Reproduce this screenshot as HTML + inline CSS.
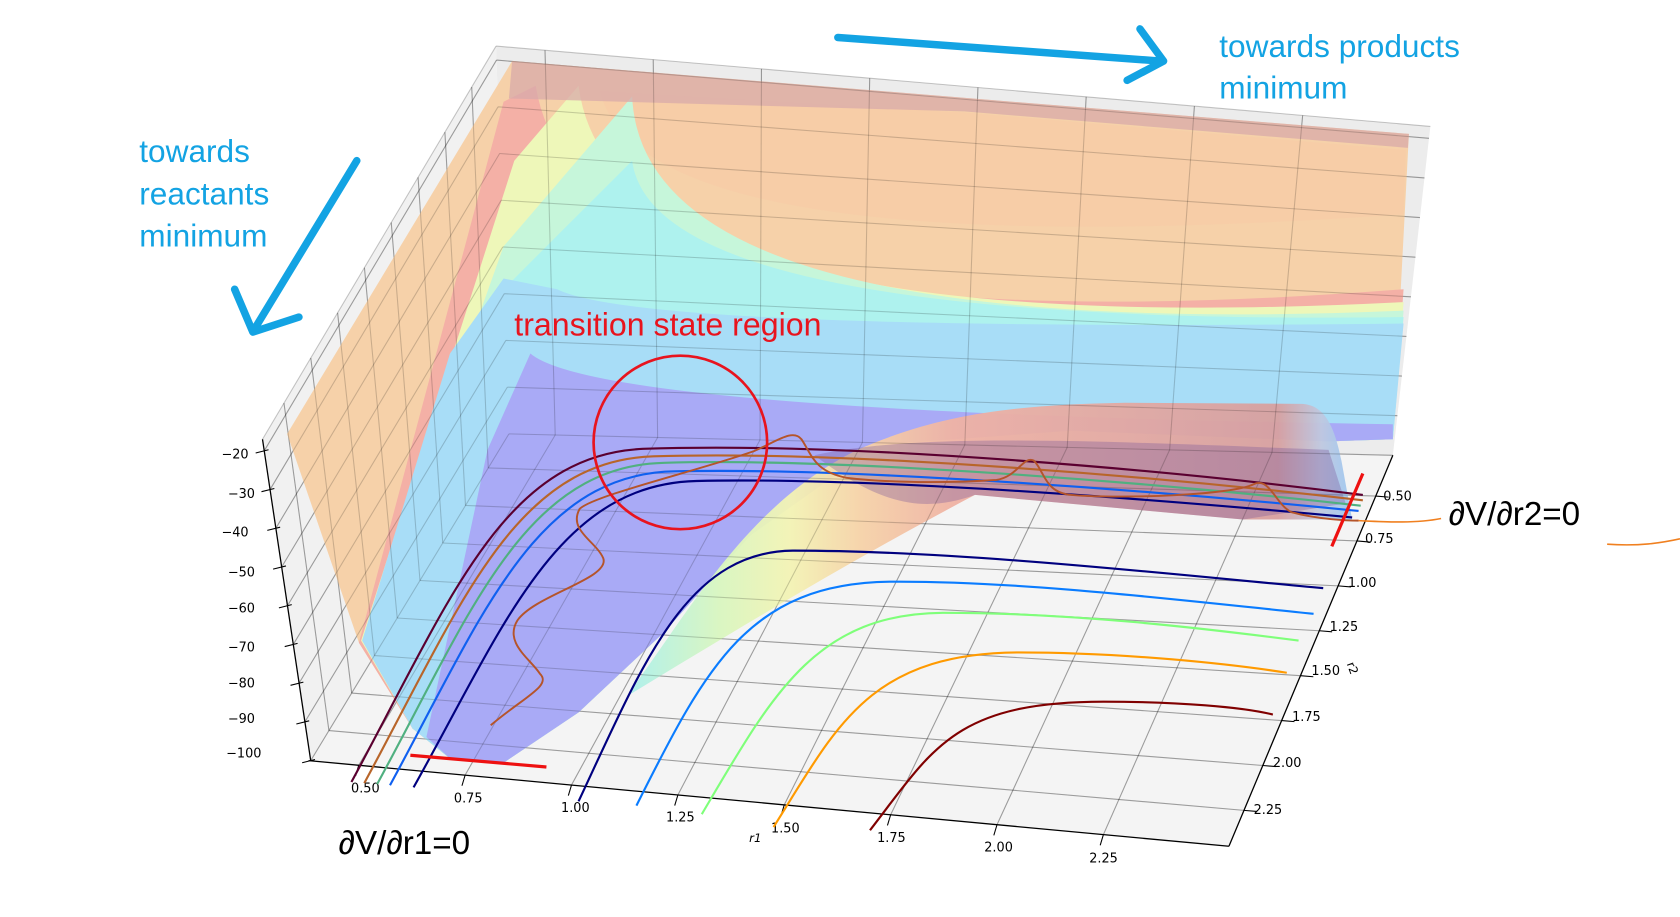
<!DOCTYPE html>
<html><head><meta charset="utf-8"><style>
html,body{margin:0;padding:0;background:#fff;width:1680px;height:917px;overflow:hidden}
svg{display:block}
</style></head><body>
<svg id="s" width="1680" height="917" viewBox="0 0 1568 856" preserveAspectRatio="none" xmlns="http://www.w3.org/2000/svg">
<defs>
<linearGradient id="bump" x1="590" y1="0" x2="1260" y2="0" gradientUnits="userSpaceOnUse">
<stop offset="0" stop-color="#aef0ea"/>
<stop offset="0.12" stop-color="#d8f6c0"/>
<stop offset="0.22" stop-color="#f3f3b4"/>
<stop offset="0.32" stop-color="#f6d2a8"/>
<stop offset="0.45" stop-color="#efb2a4"/>
<stop offset="0.9" stop-color="#d7a0a0"/>
<stop offset="0.96" stop-color="#bfc8e0"/>
<stop offset="1" stop-color="#9fc8f0"/>
</linearGradient>
</defs>
<polygon points="245,410 463,43 475,405 290,710" fill="#f1f1f1"/>
<polygon points="463,43 1335,118 1300,425 475,405" fill="#ececec"/>
<polygon points="475,405 1300,425 1147,790 290,710" fill="#f4f4f4"/>
<g id="grid" stroke="#000" stroke-opacity="0.22" stroke-width="1" fill="none"></g>
<g id="surf">
<path fill="#f6d1a9" d="M268,405 L478,57 L1315,125 L1300,410 L1240,412 L1000,402 L820,415 L700,500 L620,590 L540,665 L470,712 L420,708 L385,680 L335,600 Z"/>
<path fill="#f4b0a6" d="M335,600 L470,95 L500,80 Q540,330 1310,270 L1300,410 L1240,412 L1000,402 L820,415 L700,500 L620,590 L540,665 L470,712 L420,708 L385,680 Z"/>
<path fill="#f8c9a6" d="M560,85 Q600,250 1310,200 L1312,140 L900,105 Z" opacity="0.6"/>
<path fill="#eef7b9" d="M337,598 L480,150 L540,80 Q570,320 1310,282 L1300,410 L1240,412 L1000,402 L820,415 L700,500 L620,590 L540,665 L470,712 L420,708 L385,680 Z"/>
<path fill="#c6f6da" d="M340,595 L470,230 L590,90 Q600,320 1310,290 L1300,410 L1240,412 L1000,402 L820,415 L700,500 L620,590 L540,665 L470,712 L420,708 L385,680 Z"/>
<path fill="#aef2ee" d="M340,595 L460,280 L590,150 Q610,305 1310,296 L1300,410 L1240,412 L1000,402 L820,415 L700,500 L620,590 L540,665 L470,712 L420,708 L385,680 Z"/>
<path fill="#a8ddf7" d="M338,598 L420,330 L470,260 L520,270 Q600,310 1310,302 L1300,410 L1240,412 L1000,402 L820,415 L700,500 L620,590 L540,665 L470,712 L420,708 L385,680 Z"/>
<path fill="#a9aaf6" d="M398,688 L455,420 L495,330 Q560,385 1300,396 L1300,410 L1240,412 L1000,402 L820,415 L700,500 L620,590 L540,665 L470,712 L420,708 Z"/>
<path fill="#d8a9aa" opacity="0.75" d="M478,57 L1315,125 L1314,138 L900,104 L475,92 Z"/>
</g>
<path fill="url(#bump)" opacity="0.95" d="M585,650 C650,560 700,470 800,420 C880,385 950,378 1050,376 L1215,377 C1235,378 1245,395 1252,430 L1262,485 L1160,485 L910,462 C800,520 700,580 585,650 Z"/>
<path fill="#7a5a9a" opacity="0.35" d="M760,425 C850,405 1000,410 1240,420 L1256,470 L1160,485 L910,462 C860,480 820,470 760,425 Z"/>
<g id="grid2" stroke="#000" stroke-opacity="0.18" stroke-width="1" fill="none"></g>
<g stroke="#000" stroke-width="1.2" fill="none">
<line x1="245" y1="410" x2="290" y2="710"/>
<line x1="288" y1="710" x2="1147" y2="790"/>
<line x1="1147" y1="790" x2="1300" y2="425"/>
</g>
<g id="ticks" stroke="#000" stroke-width="1"></g>
<g font-family="DejaVu Sans, Liberation Sans, sans-serif" font-size="12" fill="#000">
<g text-anchor="end">
<text x="232" y="428">−20</text><text x="238" y="465">−30</text><text x="232" y="501">−40</text>
<text x="238" y="538">−50</text><text x="238" y="572">−60</text><text x="238" y="608">−70</text>
<text x="238" y="642">−80</text><text x="238" y="675">−90</text><text x="244" y="707">−100</text>
</g>
<g text-anchor="middle">
<text x="341" y="740">0.50</text><text x="437" y="749">0.75</text><text x="537" y="758">1.00</text>
<text x="635" y="767">1.25</text><text x="733" y="777">1.50</text><text x="832" y="786">1.75</text>
<text x="932" y="795">2.00</text><text x="1030" y="805">2.25</text>
<text x="705" y="786" font-style="italic" font-size="11">r1</text>
</g>
<g>
<text x="1291" y="467">0.50</text><text x="1274" y="507">0.75</text><text x="1258" y="548">1.00</text>
<text x="1241" y="589">1.25</text><text x="1224" y="630">1.50</text><text x="1206" y="673">1.75</text>
<text x="1188" y="716">2.00</text><text x="1170" y="760">2.25</text>
<text x="1258" y="626" font-size="11" transform="rotate(70 1262 622)">r2</text>
</g>
</g>
<g fill="none" stroke-width="2">
<path stroke="#5a0030" d="M328,730 C420,560 470,425 600,419 C800,412 1100,440 1272,462"/>
<path stroke="#b8652a" d="M340,731 C430,565 480,430 610,426 C800,420 1100,447 1272,467"/>
<path stroke="#50b080" d="M352,732 C440,570 490,435 620,432 C800,427 1100,453 1270,472"/>
<path stroke="#1060f0" d="M364,733 C450,575 500,442 630,440 C800,436 1100,460 1268,477"/>
<path stroke="#00007f" d="M386,735 C470,585 520,452 650,449 C820,445 1100,468 1262,483"/>
<path stroke="#00007f" d="M540,748 C600,620 640,515 740,514 C900,514 1100,537 1235,549"/>
<path stroke="#0a7cff" d="M594,752 C660,620 700,545 830,543 C950,542 1100,560 1226,573"/>
<path stroke="#7fff7a" d="M655,760 C720,650 760,573 880,572 C1000,572 1120,586 1212,598"/>
<path stroke="#ff9a00" d="M722,772 C780,680 810,610 950,609 C1050,609 1150,620 1201,628"/>
<path stroke="#800000" d="M812,775 C870,700 890,655 1030,655 C1100,655 1160,660 1188,667"/>
<path stroke="#b5542a" stroke-width="1.8" d="M458,677 C490,650 515,640 504,629 C495,615 470,600 483,579 C500,555 570,540 563,521 C556,505 530,495 541,475 C555,462 650,440 704,421 C725,412 740,400 748,410 C758,425 760,440 790,446 C840,452 900,450 930,448 C950,445 955,425 965,430 C975,440 975,460 1000,462 C1050,466 1150,462 1170,452 C1185,445 1190,470 1205,478 C1230,485 1260,486 1268,486"/>
<path stroke="#f08020" stroke-width="1.5" d="M1268,486 C1290,487 1320,489 1345,484"/>
<path stroke="#f08020" stroke-width="1.5" d="M1500,508 C1530,510 1550,507 1568,503"/>
</g>
<circle cx="635" cy="413" r="81" fill="none" stroke="#e8141e" stroke-width="2.5"/>
<line x1="383" y1="705" x2="510" y2="716" stroke="#ee1111" stroke-width="3"/>
<line x1="1243" y1="510" x2="1272" y2="442" stroke="#ee1111" stroke-width="3"/>
<text x="480" y="313" font-family="Liberation Sans, sans-serif" font-size="30" fill="#e8141e">transition state region</text>
<g stroke="#13a3e3" stroke-width="7" stroke-linecap="round" fill="none" stroke-linejoin="round">
<line x1="782" y1="35" x2="1083" y2="57"/>
<polyline points="1064,27 1086,57 1052,75"/>
<line x1="333" y1="150" x2="237" y2="308"/>
<polyline points="219,270 236,310 279,296"/>
</g>
<g font-family="Liberation Sans, sans-serif" font-size="29.5" fill="#13a3e3">
<text x="1138" y="53">towards products</text><text x="1138" y="92">minimum</text>
<text x="130" y="151">towards</text><text x="130" y="191">reactants</text><text x="130" y="230">minimum</text>
</g>
<g font-family="Liberation Sans, sans-serif" font-size="31" fill="#000">
<text x="1352" y="490">∂V/∂r2=0</text>
<text x="316" y="797">∂V/∂r1=0</text>
</g>
</svg>
<script>
(function(){
var NS="http://www.w3.org/2000/svg";
function L(a,b,t){return [a[0]+(b[0]-a[0])*t,a[1]+(b[1]-a[1])*t];}
function line(g,p,q){var e=document.createElementNS(NS,"line");e.setAttribute("x1",p[0]);e.setAttribute("y1",p[1]);e.setAttribute("x2",q[0]);e.setAttribute("y2",q[1]);g.appendChild(e);}
var g=document.getElementById("grid"),g2=document.getElementById("grid2"),tk=document.getElementById("ticks");
var TF=[245,410],TB=[463,43],TR=[1335,118],A=[290,710],D=[475,405],C=[1300,425],B=[1147,790];
var zt=-17,zb=-100;
var r1a=0.387,r1b=2.545,r2a=0.273,r2b=2.45;
[g,g2].forEach(function(G){
 for(var z=-20;z>=-100;z-=10){var f=(zt-z)/(zt-zb);
  var p=L(TF,A,f),q=L(TB,D,f),r=L(TR,C,f);line(G,p,q);line(G,q,r);}
 for(var i=0;i<8;i++){var r1=0.5+0.25*i,t=(r1-r1a)/(r1b-r1a);
  line(G,L(TB,TR,t),L(D,C,t));line(G,L(D,C,t),L(A,B,t));}
 for(var j=0;j<8;j++){var r2=0.5+0.25*j,s=(r2-r2a)/(r2b-r2a);
  line(G,L(TB,TF,s),L(D,A,s));line(G,L(D,A,s),L(C,B,s));}
});
line(g,TF,TB);line(g,TB,TR);
for(var z=-20;z>=-100;z-=10){var f=(zt-z)/(zt-zb),p=L(TF,A,f);line(tk,[p[0]-8,p[1]+2],[p[0]+4,p[1]-1]);}
for(var i=0;i<8;i++){var t=((0.5+0.25*i)-r1a)/(r1b-r1a),p=L(A,B,t);line(tk,[p[0],p[1]],[p[0]-3,p[1]+10]);}
for(var j=0;j<8;j++){var s=((0.5+0.25*j)-r2a)/(r2b-r2a),p=L(C,B,s);line(tk,[p[0],p[1]],[p[0]+12,p[1]+1]);}
})();
</script>
</body></html>
